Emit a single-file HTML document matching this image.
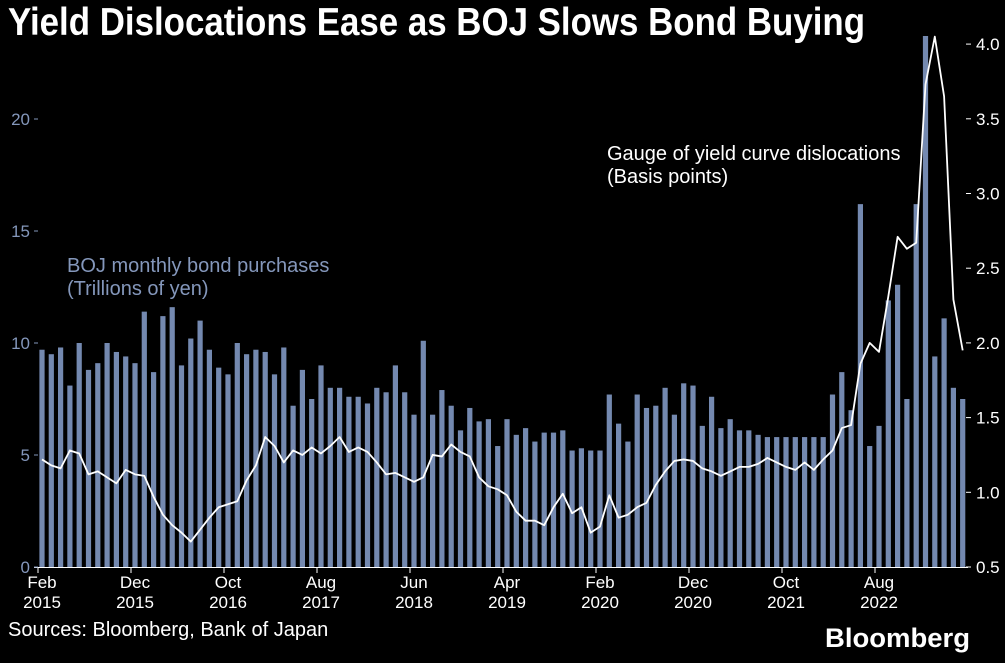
<!DOCTYPE html>
<html><head><meta charset="utf-8">
<style>
body{margin:0;background:#000;width:1005px;height:658px;overflow:hidden;font-family:"Liberation Sans",Arial,sans-serif;}
svg text{font-family:"Liberation Sans",Arial,sans-serif;}
</style></head>
<body>
<svg width="1005" height="658" id="chart">
<text x="8" y="35" fill="#fff" font-size="39" font-weight="bold" textLength="857" lengthAdjust="spacingAndGlyphs">Yield Dislocations Ease as BOJ Slows Bond Buying</text>
<text x="67" y="272" fill="#8497bb" font-size="20">BOJ monthly bond purchases</text>
<text x="67" y="295" fill="#8497bb" font-size="20">(Trillions of yen)</text>
<text x="607" y="160" fill="#fff" font-size="20">Gauge of yield curve dislocations</text>
<text x="607" y="183" fill="#fff" font-size="20">(Basis points)</text>
<text x="8" y="636" fill="#fff" font-size="20">Sources: Bloomberg, Bank of Japan</text>
<text x="825" y="647" fill="#fff" font-size="27" font-weight="bold" textLength="145" lengthAdjust="spacingAndGlyphs">Bloomberg</text>
<g id="bars"></g><g id="line"></g><g id="axes"></g>
</svg>
<script>
const purchases=[9.7,9.5,9.8,8.1,10.0,8.8,9.1,10.0,9.6,9.4,9.1,11.4,8.7,11.2,11.6,9.0,10.2,11.0,9.7,8.9,8.6,10.0,9.5,9.7,9.6,8.6,9.8,7.2,8.8,7.5,9.0,8.0,8.0,7.6,7.6,7.3,8.0,7.8,9.0,7.8,6.8,10.1,6.8,7.9,7.2,6.1,7.1,6.5,6.6,5.4,6.6,5.9,6.2,5.6,6.0,6.0,6.1,5.2,5.3,5.2,5.2,7.7,6.4,5.6,7.7,7.1,7.2,8.0,6.8,8.2,8.1,6.3,7.6,6.2,6.6,6.1,6.1,5.9,5.8,5.8,5.8,5.8,5.8,5.8,5.8,7.7,8.7,7.0,16.2,5.4,6.3,11.9,12.6,7.5,16.2,24.0,9.4,11.1,8.0,7.5];
const dislocation=[1.22,1.18,1.16,1.28,1.26,1.12,1.14,1.10,1.06,1.15,1.12,1.11,0.97,0.85,0.78,0.73,0.67,0.75,0.83,0.90,0.92,0.94,1.08,1.18,1.37,1.31,1.20,1.28,1.25,1.30,1.26,1.31,1.37,1.27,1.30,1.27,1.20,1.12,1.13,1.10,1.07,1.10,1.25,1.24,1.32,1.27,1.24,1.10,1.04,1.02,0.98,0.87,0.81,0.81,0.78,0.90,0.99,0.86,0.90,0.73,0.77,0.98,0.83,0.85,0.90,0.93,1.05,1.14,1.21,1.22,1.21,1.16,1.14,1.11,1.14,1.17,1.17,1.19,1.23,1.20,1.17,1.15,1.20,1.15,1.22,1.28,1.43,1.45,1.86,2.00,1.94,2.31,2.71,2.63,2.67,3.73,4.05,3.65,2.29,1.95];
const xTickIdx=[0,10,20,30,40,50,60,70,80,90];
const xTickMonth=["Feb","Dec","Oct","Aug","Jun","Apr","Feb","Dec","Oct","Aug"];
const xTickYear=["2015","2015","2016","2017","2018","2019","2020","2020","2021","2022"];
const leftTicks=[0,5,10,15,20];
const rightTicks=[0.5,1.0,1.5,2.0,2.5,3.0,3.5,4.0];

const NS="http://www.w3.org/2000/svg";
const x=i=>42+i*9.3;
const yL=v=>567-v*22.4;
const yR=v=>567-(v-0.5)*149.4;
function mk(t,a,p){const e=document.createElementNS(NS,t);for(const k in a)e.setAttribute(k,a[k]);p.appendChild(e);return e;}
const bars=document.getElementById('bars'),line=document.getElementById('line'),axes=document.getElementById('axes');
purchases.forEach((v,i)=>{const top=Math.max(yL(v),36);
 const r=mk('rect',{x:x(i)-2.6,y:top,width:5.2,height:567-top,fill:'#7489b0'},bars);
 
 });
const pl=mk('polyline',{points:dislocation.map((v,i)=>x(i)+','+yR(v)).join(' '),fill:'none',stroke:'#fff','stroke-width':1.8,'stroke-linejoin':'round'},line);


const base=mk('line',{x1:34,x2:968,y1:567.5,y2:567.5,stroke:'#fff','stroke-width':1},axes);


xTickIdx.forEach((idx,k)=>{
 mk('line',{x1:x(idx)-4,x2:x(idx)-4,y1:567,y2:573,stroke:'#fff'},axes);
 const t1=mk('text',{x:x(idx),y:588,fill:'#fff','font-size':17,'text-anchor':'middle'},axes);t1.textContent=xTickMonth[k];
 
 
 const t2=mk('text',{x:x(idx),y:608,fill:'#fff','font-size':17,'text-anchor':'middle'},axes);t2.textContent=xTickYear[k];
 
 });
leftTicks.forEach(v=>{
 const t=mk('text',{x:30,y:yL(v)+6,fill:'#8497bb','font-size':17,'text-anchor':'end'},axes);t.textContent=v;
 
 
 mk('line',{x1:34,x2:38,y1:yL(v),y2:yL(v),stroke:'#8497bb'},axes);});
rightTicks.forEach(v=>{
 const t=mk('text',{x:976,y:yR(v)+6,fill:'#fff','font-size':17},axes);t.textContent=v.toFixed(1);
 
 
 mk('line',{x1:966,x2:971,y1:yR(v),y2:yR(v),stroke:'#fff'},axes);});
</script>
</body></html>
